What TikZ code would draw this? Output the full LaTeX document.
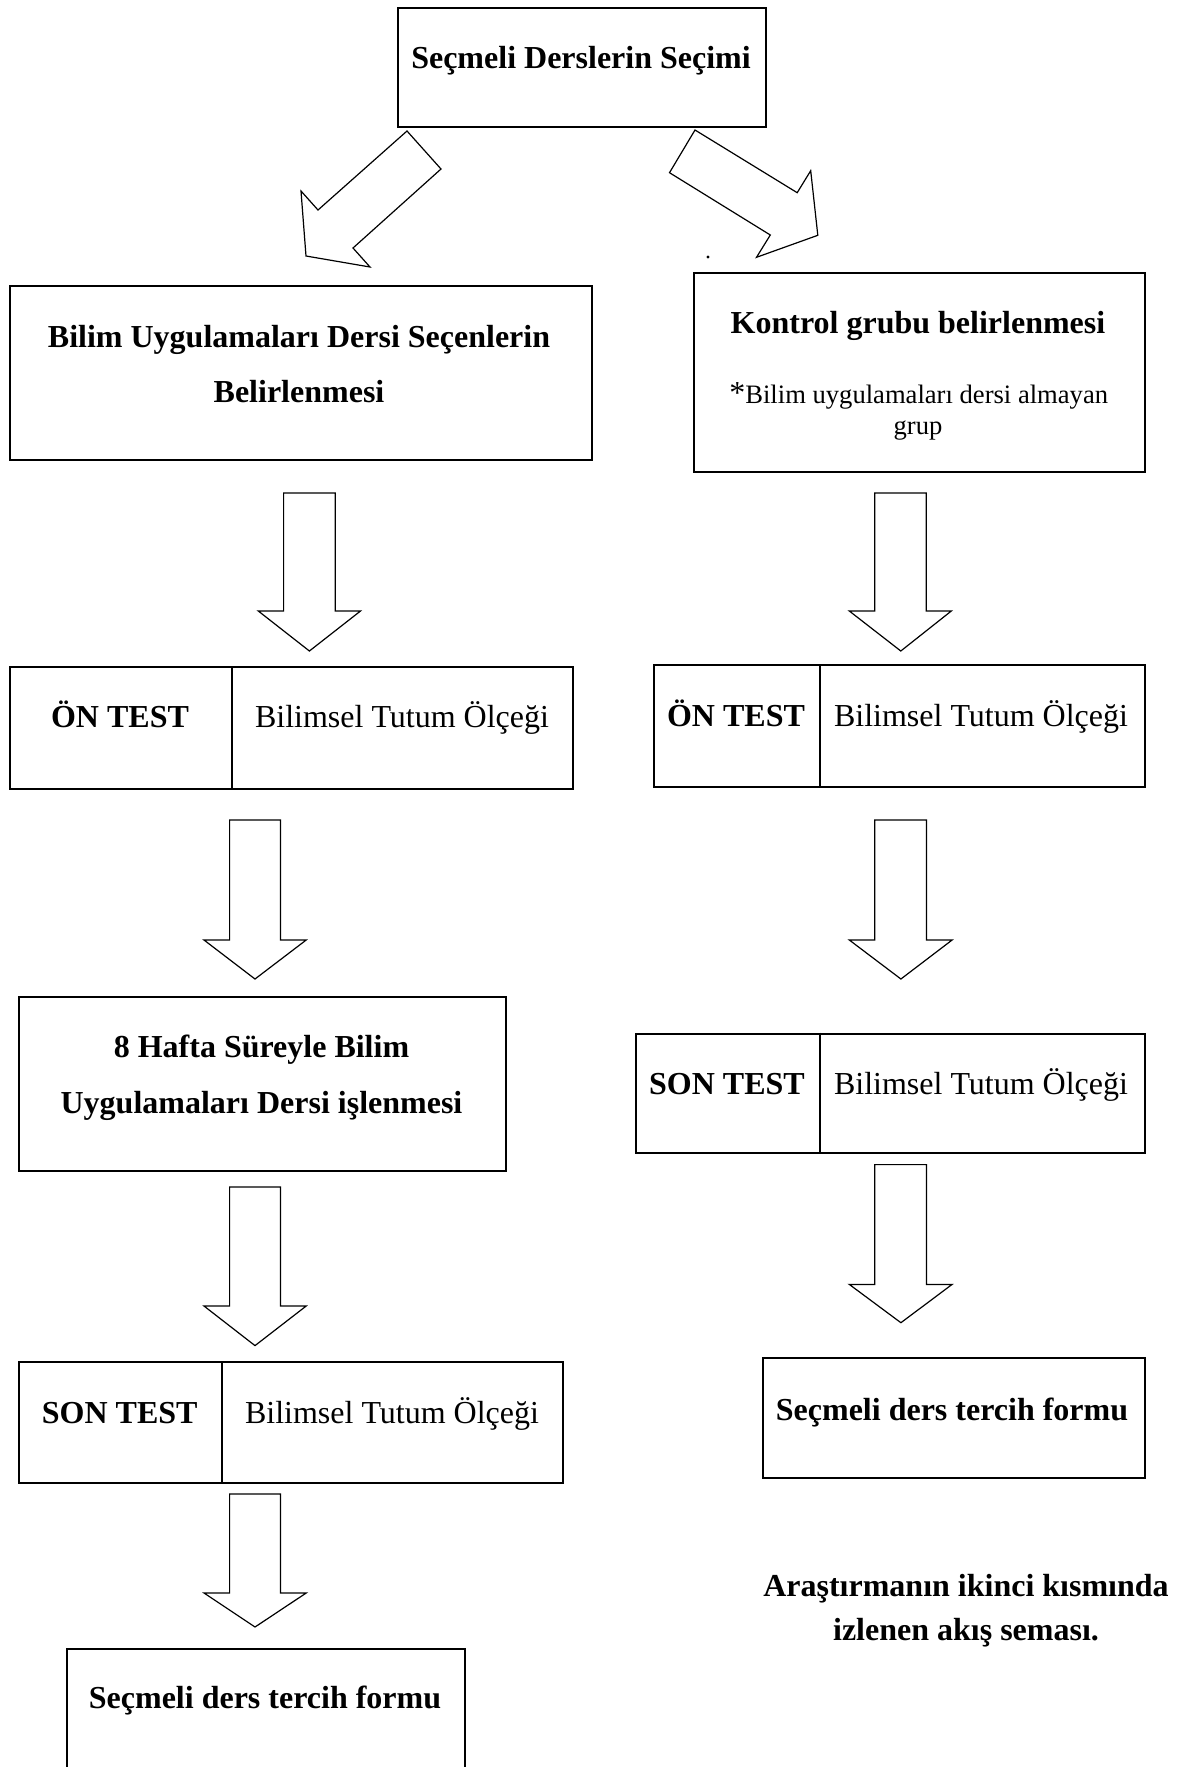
\documentclass[tikz,border=0pt]{standalone}
\usepackage{fontspec}
\setmainfont{Liberation Serif}
\newcommand\mybox[5]{\node[bx,anchor=north west,minimum width={(#4-#2)*0.5pt},minimum height={(#5-#3)*0.5pt}] (#1) at (#2,#3) {};}
\newcommand\blockarrow[8]{\draw[barrow] (#1,#3) -- (#2,#3) -- (#2,#4) -- (#6,#4) -- (#7,#8) -- (#5,#4) -- (#1,#4) -- cycle;}
\begin{document}
\begin{tikzpicture}[x=0.5pt,y=-0.5pt,
  bx/.style={draw,line width=1pt,inner sep=0pt},
  divl/.style={draw,line width=0.9pt},
  barrow/.style={draw,line width=0.6pt,line join=miter},
  lbl/.style={anchor=base,inner sep=0pt,font=\fontsize{16}{19}\selectfont\bfseries},
  reg/.style={anchor=base,inner sep=0pt,font=\fontsize{16}{19}\selectfont},
  sml/.style={anchor=base,inner sep=0pt,font=\fontsize{13.3}{16}\selectfont}]
\useasboundingbox (0,0) rectangle (1186,1767);
\clip (0,0) rectangle (1186,1767);
\fill[white] (0,0) rectangle (1186,1767);

% boxes
\mybox{top}{397}{7}{765}{126}
\mybox{bL}{8.5}{285}{591}{459}
\mybox{kR}{693}{272}{1144}{471}
\mybox{onL}{8.5}{666}{572}{788}
\mybox{onR}{652.5}{664}{1144}{786}
\mybox{hafta}{18}{996}{505}{1170}
\mybox{sonR}{634.8}{1032.6}{1144}{1152.4}
\mybox{sonL}{17.5}{1361}{562}{1481.5}
\mybox{formR}{762}{1357}{1144}{1477}
\mybox{formL}{65.8}{1648}{464.2}{1800}

% dividers
\coordinate (dOnL) at (232.3,0);
\coordinate (dOnR) at (819.7,0);
\coordinate (dSonR) at (819.8,0);
\coordinate (dSonL) at (222,0);
\draw[divl] (onL.north -| dOnL) -- (onL.south -| dOnL);
\draw[divl] (onR.north -| dOnR) -- (onR.south -| dOnR);
\draw[divl] (sonR.north -| dSonR) -- (sonR.south -| dSonR);
\draw[divl] (sonL.north -| dSonL) -- (sonL.south -| dSonL);

% texts
\node[lbl] (t0) at (581,68) {Seçmeli Derslerin Seçimi};
\node[lbl] (t1a) at (299,347.5) {Bilim Uygulamaları Dersi Seçenlerin};
\node[lbl] (t1b) at (299,402) {Belirlenmesi};
\node[lbl] (t2a) at (918,333) {Kontrol grubu belirlenmesi};
\node[sml] (t2b) at (918.7,403) {{\fontsize{16}{19}\selectfont *}Bilim uygulamaları dersi almayan};
\node[sml] (t2c) at (918,434) {grup};
\node[lbl] (t3a) at (120,727) {ÖN TEST};
\node[reg] (t3b) at (402,727) {Bilimsel Tutum Ölçeği};
\node[lbl] (t4a) at (736,726) {ÖN TEST};
\node[reg] (t4b) at (981,726) {Bilimsel Tutum Ölçeği};
\node[lbl] (t5a) at (261.5,1057.5) {8 Hafta Süreyle Bilim};
\node[lbl] (t5b) at (261.5,1113) {Uygulamaları Dersi işlenmesi};
\node[lbl] (t6a) at (727,1094) {SON TEST};
\node[reg] (t6b) at (981,1094) {Bilimsel Tutum Ölçeği};
\node[lbl] (t7a) at (119.7,1423) {SON TEST};
\node[reg] (t7b) at (392,1423) {Bilimsel Tutum Ölçeği};
\node[lbl] (t8) at (952,1420) {Seçmeli ders tercih formu};
\node[lbl] (t9) at (265,1708) {Seçmeli ders tercih formu};
\node[lbl] (c1) at (966,1596) {Araştırmanın ikinci kısmında};
\node[lbl] (c2) at (966,1640) {izlenen akış seması.};

% diagonal block arrows
\draw[barrow] (407,131) -- (441,169) -- (353,248) -- (370,267) -- (306,256) -- (301,191) -- (318,210) -- cycle;
\draw[barrow] (695,130) -- (669.5,172.7) -- (770.3,235) -- (756.5,257.3) -- (817.8,235.3) -- (810.7,170.7) -- (797.2,192.7) -- cycle;
\fill (708,257) circle (1.6);

% vertical block arrows
\blockarrow{283.6}{335.2}{493}{611}{258.3}{360.5}{309.4}{651}
\blockarrow{874.7}{926.2}{493}{611}{849.3}{951.3}{900.8}{651}
\blockarrow{229.6}{280.5}{820}{940}{204}{306.2}{255}{979}
\blockarrow{874.8}{926.4}{820}{940}{849.3}{952.1}{900.9}{979}
\blockarrow{229.6}{280.5}{1187}{1306}{204}{306.2}{255}{1345.6}
\blockarrow{874.8}{926.4}{1164.6}{1284.4}{849.3}{952.1}{900.9}{1322.7}
\blockarrow{229.6}{280.5}{1494}{1593}{204}{306.2}{255}{1627}
\end{tikzpicture}
\end{document}
